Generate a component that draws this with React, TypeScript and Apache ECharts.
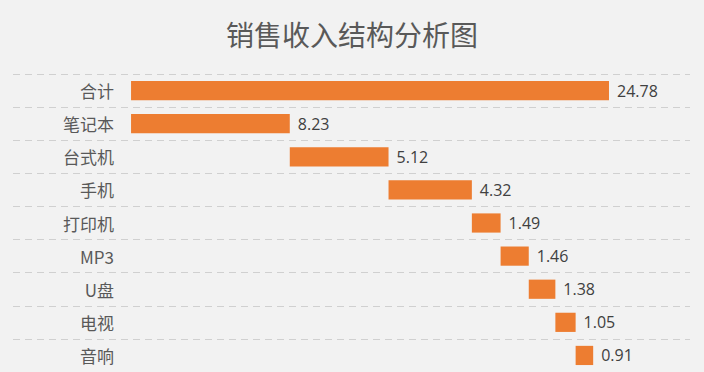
import React, { useEffect, useRef } from "react";
import * as echarts from "echarts";

const categories = ["合计", "笔记本", "台式机", "手机", "打印机", "MP3", "U盘", "电视", "音响"];
const values = [24.78, 8.23, 5.12, 4.32, 1.49, 1.46, 1.38, 1.05, 0.91];
const titleText = "销售收入结构分析图";

export default function App() {
  const ref = useRef<HTMLDivElement>(null);
  useEffect(() => {
    document.body.style.margin = "0";
    if (!ref.current) return;
    const chart = echarts.init(ref.current, null, { renderer: "svg" });
    // waterfall offsets: total starts at 0, items accumulate
    const offsets: number[] = [];
    let acc = 0;
    values.forEach((v, i) => {
      if (i === 0) {
        offsets.push(0);
      } else {
        offsets.push(Number(acc.toFixed(2)));
        acc += v;
      }
    });
    chart.setOption({
      animation: false,
      backgroundColor: "#f2f2f2",
      title: {
        text: titleText,
        left: "center",
        top: 15,
        textStyle: {
          fontSize: 28,
          fontWeight: "normal",
          color: "#595959",
          fontFamily: "Noto Sans CJK SC",
        },
      },
      grid: { left: 13, right: 14, top: 74, height: 298, containLabel: false },
      xAxis: {
        type: "value",
        min: -6.12,
        max: 28.98,
        show: false,
        splitLine: { show: false },
      },
      yAxis: {
        type: "category",
        data: categories,
        inverse: true,
        axisLine: { show: false },
        axisTick: { show: false },
        axisLabel: {
          margin: -101,
          fontSize: 17,
          color: "#595959",
          fontFamily: "Noto Sans CJK SC",
        },
        splitLine: {
          show: true,
          lineStyle: { color: "#d0d0d0", type: [7, 5], width: 1 },
        },
      },
      series: [
        {
          type: "bar",
          stack: "w",
          data: offsets,
          itemStyle: { color: "transparent" },
          barCategoryGap: "42%",
          silent: true,
        },
        {
          type: "bar",
          stack: "w",
          data: values,
          barCategoryGap: "42%",
          itemStyle: { color: "#ED7D31" },
          label: {
            show: true,
            position: "right",
            distance: 8,
            fontSize: 16,
            color: "#404040",
            fontFamily: "Open Sans",
            formatter: (p: any) => values[p.dataIndex].toFixed(2),
          },
        },
      ],
    });
    return () => chart.dispose();
  }, []);
  return <div ref={ref} style={{ width: 704, height: 372 }} />;
}
